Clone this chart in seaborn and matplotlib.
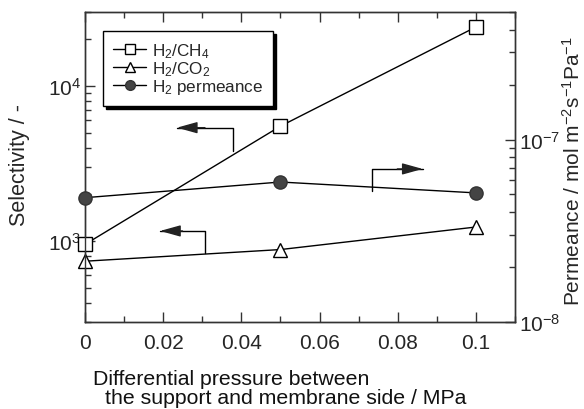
import numpy as np
import pandas as pd
import seaborn as sns
from matplotlib import pyplot as plt
from matplotlib.ticker import LogLocator, MultipleLocator, NullFormatter
from matplotlib.lines import Line2D

# values
pressure = [0.0, 0.05, 0.1]               # differential pressure / MPa
sel_h2_ch4 = [950, 5500, 24000]           # H2/CH4 selectivity
sel_h2_co2 = [740, 880, 1230]             # H2/CO2 selectivity
perm_h2 = [4.8e-8, 5.85e-8, 5.1e-8]       # H2 permeance / mol m-2 s-1 Pa-1

df = pd.DataFrame({'p': pressure, 'ch4': sel_h2_ch4, 'co2': sel_h2_co2, 'perm': perm_h2})

sns.set_style('ticks')
plt.rcParams['font.family'] = ['Liberation Sans', 'DejaVu Sans']
plt.rcParams['mathtext.fontset'] = 'custom'
plt.rcParams['mathtext.rm'] = 'Liberation Sans'
plt.rcParams['mathtext.it'] = 'Liberation Sans:italic'
plt.rcParams['mathtext.bf'] = 'Liberation Sans:bold'

fig = plt.figure(figsize=(5.84, 4.10), dpi=100)
ax = fig.add_axes([0.1455, 0.2122, 0.7363, 0.7561])
ax2 = ax.twinx()

lw = 1.0
sns.lineplot(x='p', y='ch4', data=df, ax=ax, color='k', lw=lw, marker='s', markersize=9.5,
             markerfacecolor='white', markeredgecolor='k', markeredgewidth=1.0, zorder=5)
sns.lineplot(x='p', y='co2', data=df, ax=ax, color='k', lw=lw, marker='^', markersize=10.5,
             markerfacecolor='white', markeredgecolor='k', markeredgewidth=1.0, zorder=5)
sns.lineplot(x='p', y='perm', data=df, ax=ax2, color='k', lw=lw, marker='o', markersize=9.5,
             markerfacecolor='#444444', markeredgecolor='#333333', markeredgewidth=1.0, zorder=5)

for a in (ax, ax2):
    a.set_yscale('log')
    a.set_xlim(0, 0.11)
    for s in a.spines.values():
        s.set_linewidth(1.0)
        s.set_color('#333333')
        s.set_visible(True)
    for line in a.lines:
        line.set_clip_on(False)

ax.set_ylim(300, 30000)
ax2.set_ylim(1e-8, 5e-7)

ax.xaxis.set_minor_locator(MultipleLocator(0.01))
ax.set_xticks([0, 0.02, 0.04, 0.06, 0.08, 0.1])
ax.set_xticklabels(['0', '0.02', '0.04', '0.06', '0.08', '0.1'])

for a in (ax, ax2):
    a.yaxis.set_major_locator(LogLocator(base=10))
    a.yaxis.set_minor_locator(LogLocator(base=10, subs=np.arange(2, 10)))
    a.yaxis.set_minor_formatter(NullFormatter())

ax.tick_params(axis='both', which='both', direction='in', top=True, right=False,
               labelsize=15, color='#333333', width=1.0, pad=8)
ax.tick_params(which='major', length=7)
ax.tick_params(which='minor', length=4)
ax.tick_params(axis='y', pad=3)
ax2.tick_params(axis='y', which='both', direction='in', labelsize=15, color='#333333',
                width=1.0, pad=3)
ax2.tick_params(which='major', length=7)
ax2.tick_params(which='minor', length=4)

ax.set_xlabel('')
ax.set_ylabel('Selectivity / -', fontsize=15.5, labelpad=0)
ax.yaxis.set_label_coords(-0.128, 0.51)
ax2.set_ylabel('Permeance / mol m$^{-2}$s$^{-1}$Pa$^{-1}$', fontsize=15)
ax2.yaxis.set_label_coords(1.11, 0.49)

fig.text(93 / 584, 1 - 385 / 410, 'Differential pressure between', fontsize=15.3, ha='left',
         va='baseline', color='#111111')
fig.text(105 / 584, 1 - 404 / 410, 'the support and membrane side / MPa', fontsize=15.3,
         ha='left', va='baseline', color='#111111')

# guide arrows pointing at the axis each series belongs to
def guide(a, x0, y0, y1, x1):
    a.plot([x0, x0, x1], [y0, y1, y1], color='k', lw=1.0)
    a.annotate('', xy=(x1, y1), xytext=(x0 + (x1 - x0) * 0.5, y1),
               arrowprops=dict(arrowstyle='-|>,head_length=0.9,head_width=0.25',
                               mutation_scale=14, color='#222222', lw=1.0,
                               shrinkA=0, shrinkB=0))

guide(ax, 0.0379, 3780, 5380, 0.0235)
guide(ax, 0.0307, 830, 1160, 0.0192)
guide(ax2, 0.0734, 5.25e-8, 6.9e-8, 0.0864)

handles = [
    Line2D([], [], color='k', lw=1.0, marker='s', markersize=6.5, markerfacecolor='white',
           markeredgecolor='k'),
    Line2D([], [], color='k', lw=1.0, marker='^', markersize=7.5, markerfacecolor='white',
           markeredgecolor='k'),
    Line2D([], [], color='k', lw=1.0, marker='o', markersize=7, markerfacecolor='#444444',
           markeredgecolor='#333333'),
]
labels = ['H$_2$/CH$_4$', 'H$_2$/CO$_2$', 'H$_2$ permeance']
leg = ax2.legend(handles, labels, loc='upper left', bbox_to_anchor=(0.042, 0.939),
                 borderaxespad=0, fontsize=12.3, frameon=True, fancybox=False,
                 shadow={'color': 'k', 'alpha': 1.0}, framealpha=1, edgecolor='k',
                 handlelength=1.9, handletextpad=0.35, labelspacing=-0.05,
                 borderpad=0.6)
leg.get_frame().set_linewidth(1.0)
leg.set_zorder(10)

plt.savefig('out.png', dpi=100)
